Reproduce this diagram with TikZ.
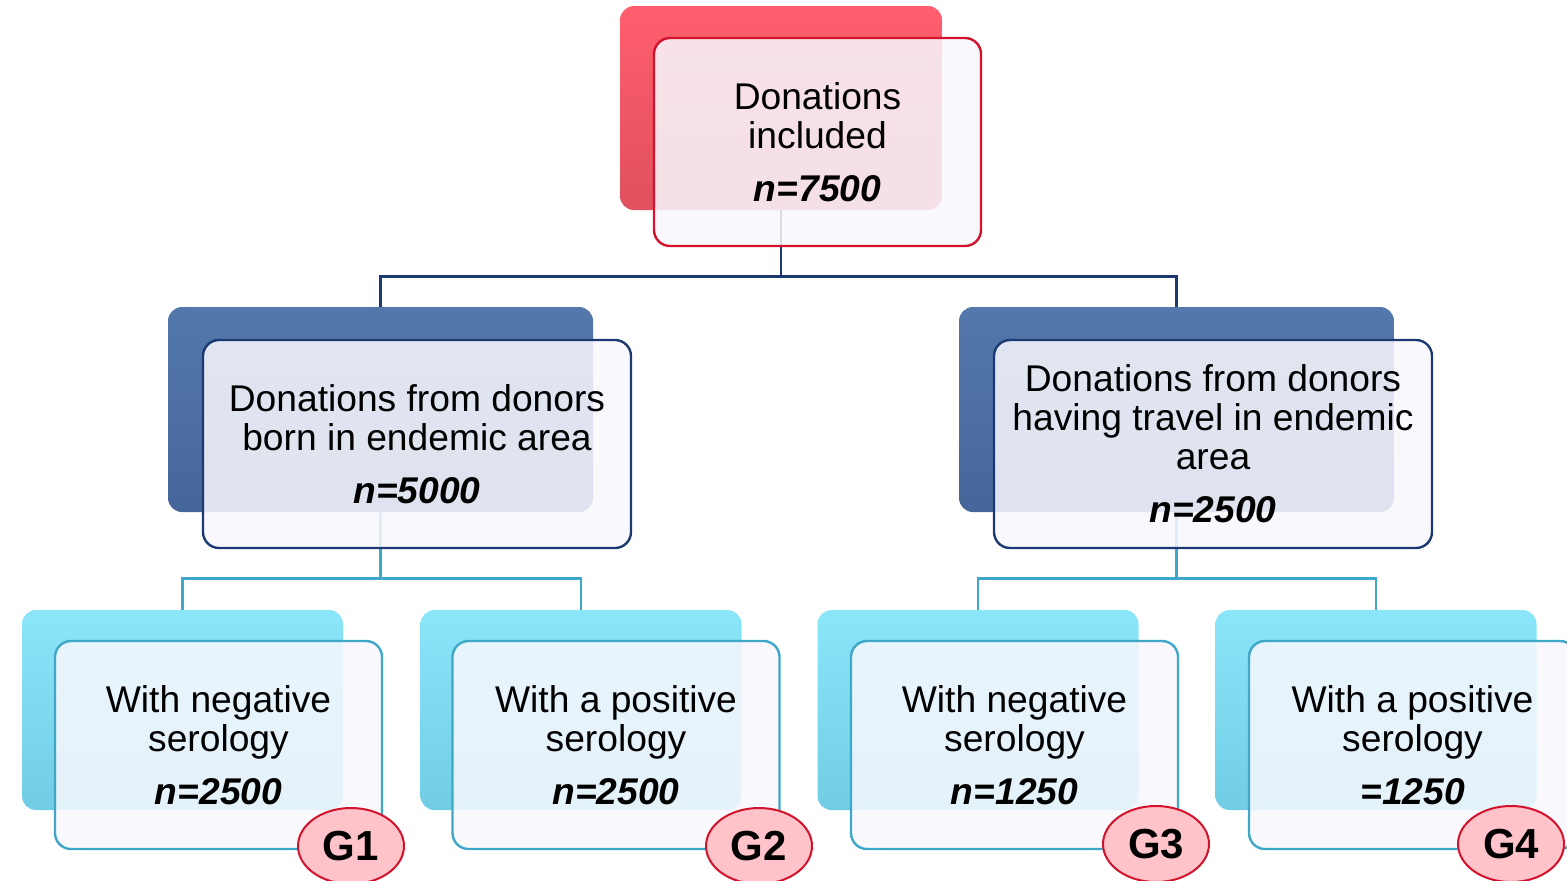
\documentclass[tikz,border=0pt]{standalone}
\usepackage{fontspec}
\setmainfont{Liberation Sans}
\usepackage{tikz}
\usetikzlibrary{shapes.geometric}
\definecolor{redback}{HTML}{E0505E}
\definecolor{redtop}{HTML}{FF5E6E}
\definecolor{redline}{HTML}{D3132C}
\definecolor{navyback}{HTML}{46669A}
\definecolor{navytop}{HTML}{5478AC}
\definecolor{navyline}{HTML}{1C3A72}
\definecolor{skyback}{HTML}{70CDE4}
\definecolor{skytop}{HTML}{8CE6FA}
\definecolor{skyline}{HTML}{3FA8C8}
\definecolor{frontfill}{HTML}{F8F8FD}
\definecolor{grpfill}{HTML}{FFC3C9}
\newcommand{\num}[1]{\\[7pt]{\bfseries\itshape #1}}

\begin{document}
\begin{tikzpicture}[
  x=0.5pt, y=-0.5pt,
  font=\fontsize{18.6}{19.5}\selectfont,
  back/.style={rounded corners=7pt, inner sep=0pt, draw=none},
  front/.style={draw=#1, line width=1.2pt, rounded corners=8pt, fill=frontfill,
    fill opacity=0.86, text opacity=1, align=center, inner sep=0pt,
    minimum width=163.5pt, minimum height=104pt},
  grp/.style={ellipse, draw=redline, line width=1pt, fill=grpfill, inner sep=0pt,
    minimum width=53pt, minimum height=38pt, font=\fontsize{21}{21}\selectfont\bfseries},
  trunk/.style={draw=navyline, line width=1.2pt},
  twig/.style={draw=skyline, line width=1.2pt}
]
\useasboundingbox (0,0) rectangle (1567,880);

% back layer
\node[back, top color=redtop, bottom color=redback, minimum width=161pt, minimum height=102pt] (tb) at (781,108) {};
\node[back, top color=navytop, bottom color=navyback, minimum width=212.5pt, minimum height=102.5pt] (lb) at (380.5,409.5) {};
\node[back, top color=navytop, bottom color=navyback, minimum width=217.5pt, minimum height=102.5pt] (rb) at (1176.5,409.5) {};
\node[back, top color=skytop, bottom color=skyback, minimum width=160.5pt, minimum height=100pt] (b1) at (182.5,710) {};
\node[back, top color=skytop, bottom color=skyback, minimum width=160.5pt, minimum height=100pt] (b2) at (581,710) {};
\node[back, top color=skytop, bottom color=skyback, minimum width=160.5pt, minimum height=100pt] (b3) at (978,710) {};
\node[back, top color=skytop, bottom color=skyback, minimum width=160.5pt, minimum height=100pt] (b4) at (1376,710) {};

% connectors
\path (tb.south) ++(0,66) coordinate (tj);
\draw[trunk] (tb.south) -- (tj) -| (lb.north);
\draw[trunk] (tj) -| (rb.north);
\path (lb.south) ++(0,66) coordinate (lj);
\draw[twig] (lb.south) -- (lj) -| (b1.north);
\draw[twig] (lj) -| (b2.north);
\path (rb.south) ++(0,66) coordinate (rj);
\draw[twig] (rb.south) -- (rj) -| (b3.north);
\draw[twig] (rj) -| (b4.north);

% front layer
\node[front=redline] (tf) at (817.5,142) {Donations\\included\num{n=7500}};
\node[front=navyline, minimum width=214pt] (lf) at (417,444) {Donations from donors\\born in endemic area\num{n=5000}};
\node[front=navyline, minimum width=219pt] (rf) at (1213,444) {Donations from donors\\having travel in endemic\\area\num{n=2500}};
\node[front=skyline] (f1) at (218.5,745) {With negative\\serology\num{n=2500}};
\node[front=skyline] (f2) at (616,745) {With a positive\\serology\num{n=2500}};
\node[front=skyline] (f3) at (1014.5,745) {With negative\\serology\num{n=1250}};
\node[front=skyline] (f4) at (1412.5,745) {With a positive\\serology\num{=1250}};

% group tags
\node[grp] (g1) at (351,846) {G1};
\node[grp] (g2) at (759,846) {G2};
\node[grp] (g3) at (1156,844) {G3};
\node[grp] (g4) at (1511,844) {G4};
\end{tikzpicture}
\end{document}
